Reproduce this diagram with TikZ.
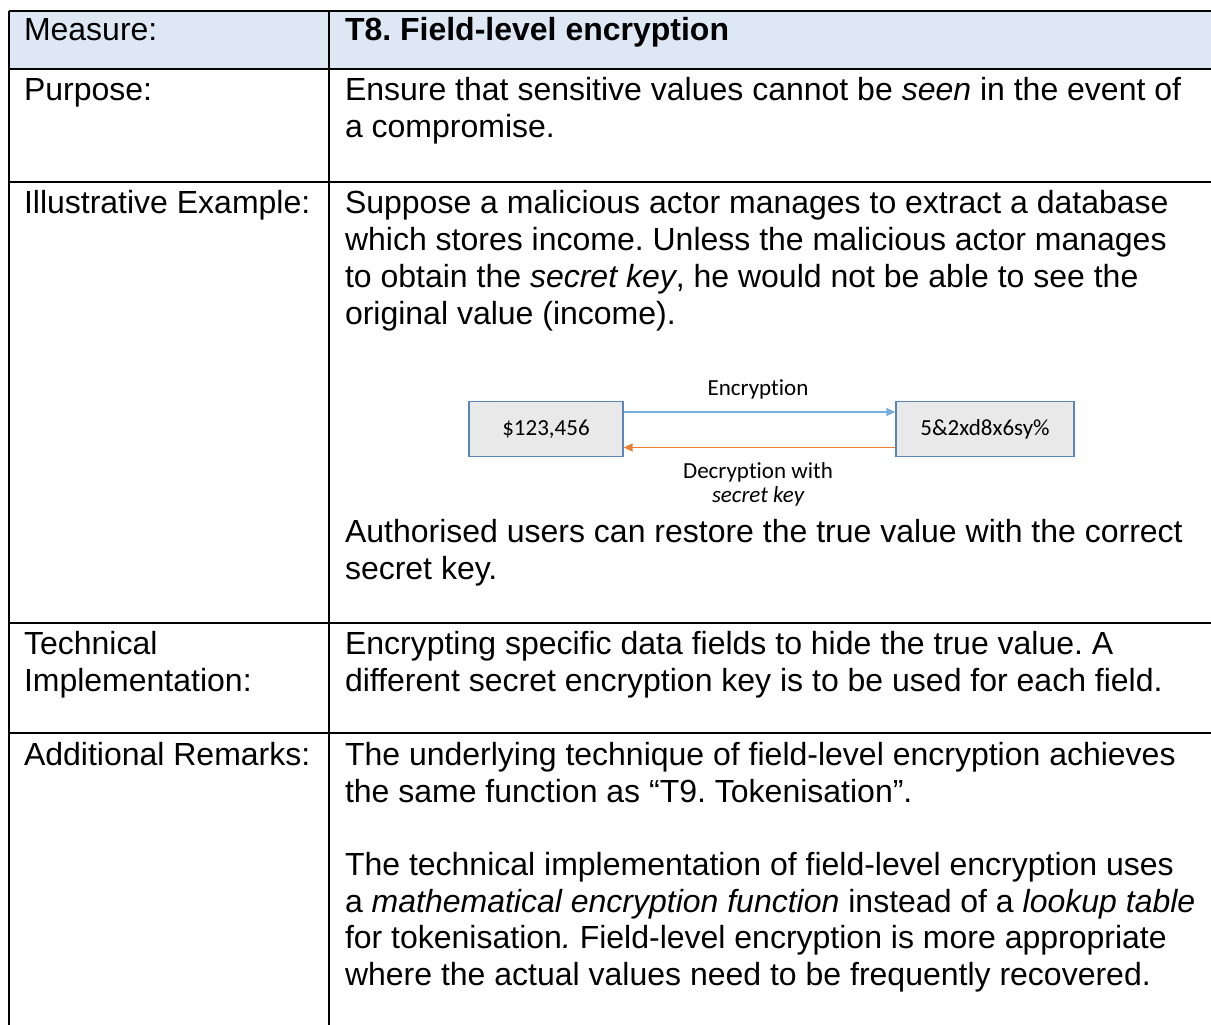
\documentclass[tikz,border=0pt]{standalone}
\usepackage{fontspec}
\setmainfont{Liberation Sans}
\newfontfamily\carlito[Ligatures=NoCommon]{Carlito}
\usetikzlibrary{arrows.meta}
\definecolor{headfill}{HTML}{DEE8F5}
\definecolor{boxfill}{HTML}{E9E9E9}
\definecolor{boxline}{HTML}{5A86B5}
\definecolor{encblue}{HTML}{78ACDD}
\definecolor{decorange}{HTML}{ED7D31}
\tikzset{
  gridline/.style={line width=2.6pt, black},
  txt/.style={anchor=base west, inner sep=0pt, outer sep=0pt, font=\frenchspacing\fontsize{32}{37}\selectfont},
  valbox/.style={draw=boxline, fill=boxfill, line width=1.3pt, minimum height=55pt, inner sep=0pt, font=\carlito\fontsize{23}{28}\selectfont},
  dlabel/.style={anchor=base, inner sep=0pt, font=\carlito\fontsize{23}{28}\selectfont},
  encarrow/.style={draw=encblue, fill=encblue, line width=1.3pt, -{Triangle[length=9pt,width=8pt]}},
  decarrow/.style={draw=decorange, fill=decorange, line width=1.7pt, -{Triangle[length=9pt,width=8pt]}}
}
\begin{document}
\begin{tikzpicture}[x=1pt,y=-1pt]
\useasboundingbox (0,0) rectangle (1211,1025);
% header fill
\fill[headfill] (9,11) rectangle (1211,69);
% grid
\draw[gridline] (9,11) -- (1211,11);
\draw[gridline] (9,69) -- (1211,69);
\draw[gridline] (9,182) -- (1211,182);
\draw[gridline] (9,623) -- (1211,623);
\draw[gridline] (9,733) -- (1211,733);
\draw[gridline] (9,11) -- (9,1025);
\draw[gridline] (329,11) -- (329,1025);
% header
\node[txt] (h1) at (24,41) {Measure:};
\node[txt] (h2) at (345,41) {\bfseries T8. Field-level encryption};
% purpose
\node[txt] (p1) at (24,100) {Purpose:};
\node[txt] (p2) at (345,100) {Ensure that sensitive values cannot be \textit{seen} in the event of};
\node[txt] (p3) at (345,137) {a compromise.};
% illustrative
\node[txt] (i1) at (24,213) {Illustrative Example:};
\node[txt] (i2) at (345,213) {Suppose a malicious actor manages to extract a database};
\node[txt] (i3) at (345,250) {which stores income. Unless the malicious actor manages};
\node[txt] (i4) at (345,287) {to obtain the \textit{secret key}, he would not be able to see the};
\node[txt] (i5) at (345,324) {original value (income).};
\node[txt] (i6) at (345,542) {Authorised users can restore the true value with the correct};
\node[txt] (i7) at (345,579) {secret key.};
% diagram
\node[valbox, minimum width=154pt] (L) at (546,429) {\$123,456};
\node[valbox, minimum width=178pt] (R) at (985,429) {5\&2xd8x6sy\%};
\draw[encarrow] ([yshift=17pt]L.east) -- ([yshift=17pt]R.west);
\draw[decarrow] ([yshift=-18.5pt]R.west) -- ([yshift=-18.5pt]L.east);
\node[dlabel] (enc) at (758,395) {Encryption};
\node[dlabel] (dec) at (758,478) {Decryption with};
\node[dlabel] (key) at (758,502) {\itshape secret key};
% technical
\node[txt] (t1) at (24,654) {Technical};
\node[txt] (t2) at (24,691) {Implementation:};
\node[txt] (t3) at (345,654) {Encrypting specific data fields to hide the true value. A};
\node[txt] (t4) at (345,691) {different secret encryption key is to be used for each field.};
% additional
\node[txt] (a1) at (24,765) {Additional Remarks:};
\node[txt] (a2) at (345,765) {The underlying technique of field-level encryption achieves};
\node[txt] (a3) at (345,802) {the same function as “T9. Tokenisation”.};
\node[txt] (a4) at (345,875) {The technical implementation of field-level encryption uses};
\node[txt] (a5) at (345,912) {a \textit{mathematical encryption function} instead of a \textit{lookup table}};
\node[txt] (a6) at (345,948) {for tokenisation\textit{.} Field-level encryption is more appropriate};
\node[txt] (a7) at (345,985) {where the actual values need to be frequently recovered.};
\end{tikzpicture}
\end{document}
